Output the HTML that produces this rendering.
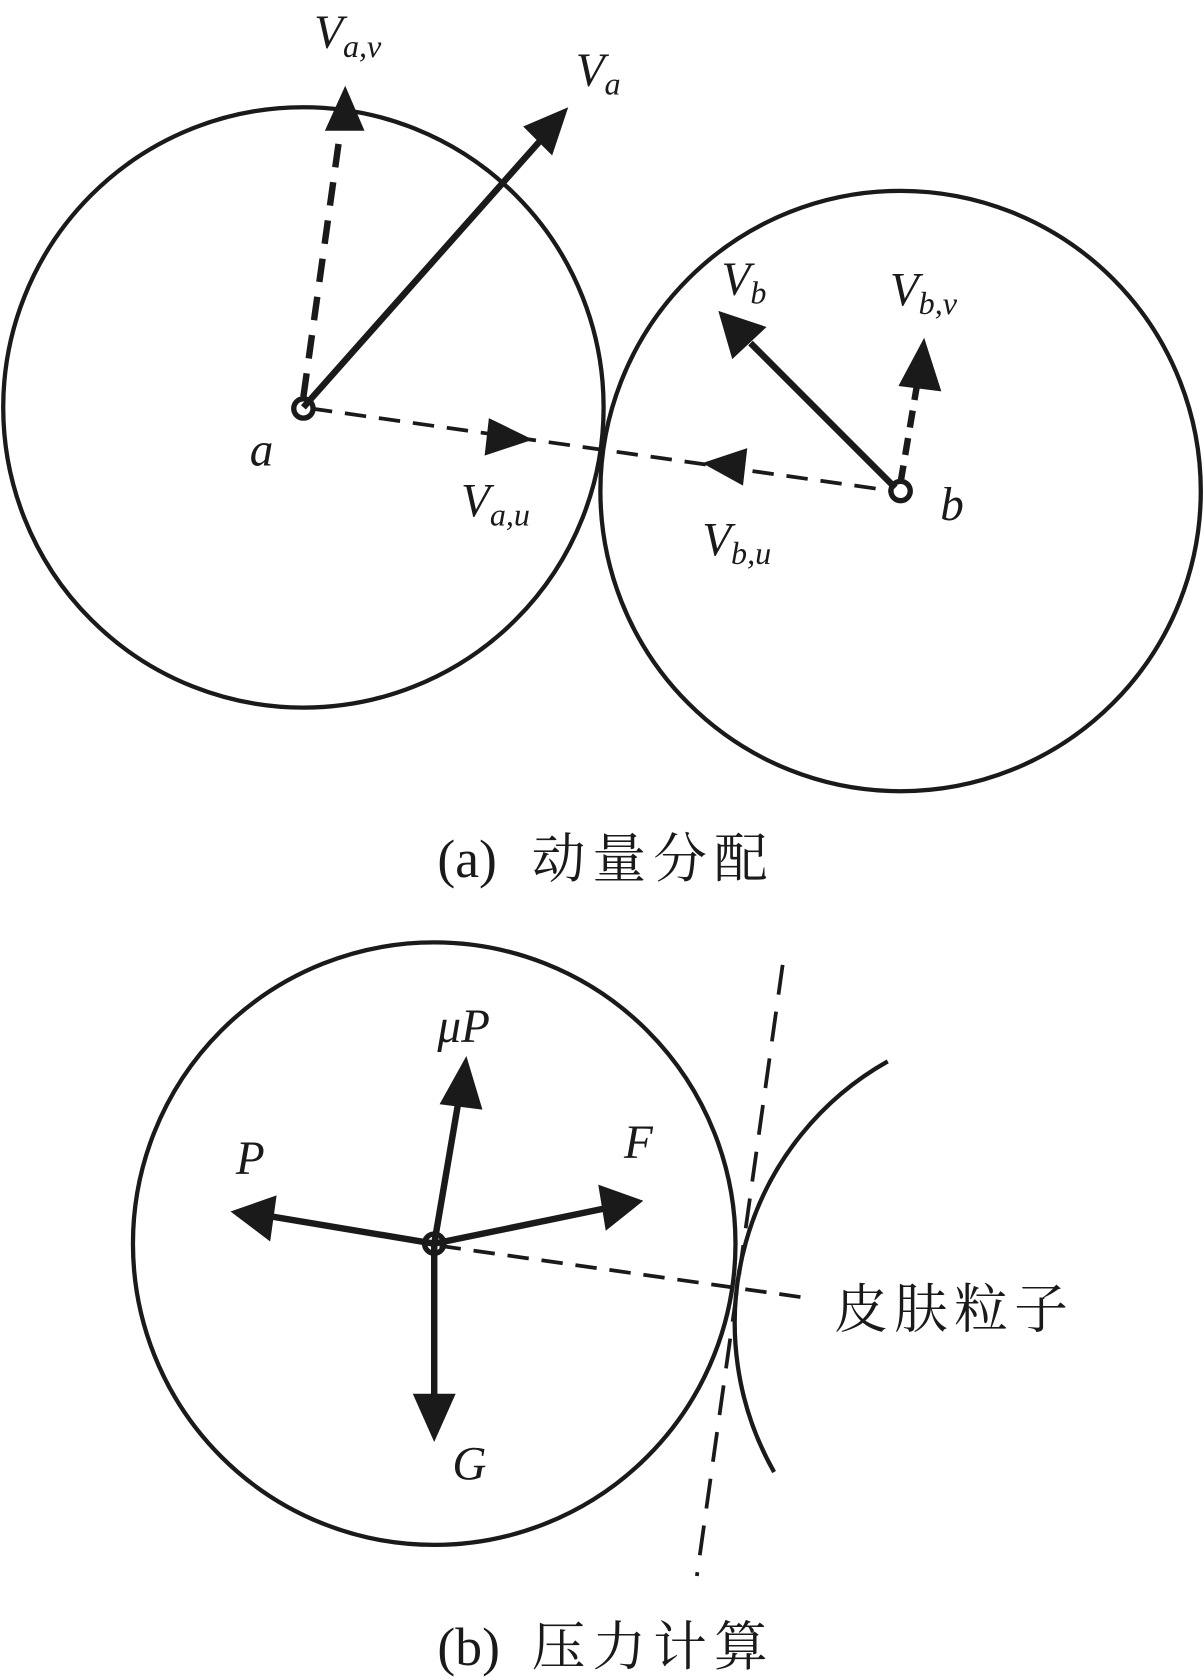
<!DOCTYPE html>
<html><head><meta charset="utf-8"><style>
html,body{margin:0;padding:0;background:#fff;}
svg{display:block;}
text{fill:#1a1a1a;}
.it{font-family:"Liberation Serif",serif;font-style:italic;font-size:44px;}
.sub{font-size:30px;}
.cap{font-family:"Liberation Serif","Noto Serif CJK SC",serif;font-size:50px;}
.cjk{font-family:"Noto Serif CJK SC",serif;}
</style></head><body>
<svg width="1204" height="1680" viewBox="0 0 1123 1567" preserveAspectRatio="none" xmlns="http://www.w3.org/2000/svg">
<g fill="none" stroke="#1a1a1a">
<circle cx="283" cy="380" r="280" stroke-width="4"/>
<circle cx="840" cy="458" r="280" stroke-width="4"/>
<line x1="283" y1="370" x2="318" y2="118" stroke-width="6" stroke-dasharray="22,14"/>
<line x1="283" y1="380" x2="505" y2="130" stroke-width="6"/>
<line x1="290" y1="381" x2="833" y2="458" stroke-width="3.5" stroke-dasharray="20,12"/>
<line x1="835" y1="455" x2="700" y2="320" stroke-width="6"/>
<line x1="840" y1="450" x2="856" y2="355" stroke-width="6" stroke-dasharray="16,10"/>
<circle cx="283" cy="381" r="9" stroke-width="5"/>
<circle cx="840" cy="458" r="9" stroke-width="5"/>
<circle cx="405" cy="1160" r="281" stroke-width="4"/>
<line x1="405" y1="1160" x2="428" y2="1025" stroke-width="6"/>
<line x1="405" y1="1160" x2="255" y2="1135" stroke-width="6"/>
<line x1="405" y1="1160" x2="565" y2="1127" stroke-width="6"/>
<line x1="405" y1="1160" x2="405" y2="1305" stroke-width="6"/>
<line x1="410" y1="1162" x2="748" y2="1210" stroke-width="3.5" stroke-dasharray="20,12"/>
<line x1="730" y1="900" x2="650" y2="1470" stroke-width="3.5" stroke-dasharray="28,16"/>
<path d="M828 990 A281 281 0 0 0 722 1373" stroke-width="4"/>
<circle cx="405" cy="1160" r="9" stroke-width="5"/>
</g>
<g fill="#1a1a1a">
<polygon points="322,80 303,122 340,122"/>
<polygon points="530,100 488,118 515,145"/>
<polygon points="497,410 456,390 452,425"/>
<polygon points="655,432 697,418 693,453"/>
<polygon points="670,290 683,335 715,305"/>
<polygon points="862,315 838,360 878,365"/>
<polygon points="435,985 410,1030 450,1035"/>
<polygon points="215,1130 258,1115 252,1158"/>
<polygon points="600,1120 558,1105 565,1148"/>
<polygon points="405,1345 385,1300 425,1300"/>
</g>
<text class="it" x="293" y="45">V<tspan class="sub" dy="8">a,v</tspan></text>
<text class="it" x="537" y="80">V<tspan class="sub" dy="8">a</tspan></text>
<text class="it" x="233" y="434">a</text>
<text class="it" x="430" y="482">V<tspan class="sub" dy="8">a,u</tspan></text>
<text class="it" x="673" y="275">V<tspan class="sub" dy="8">b</tspan></text>
<text class="it" x="830" y="285">V<tspan class="sub" dy="8">b,v</tspan></text>
<text class="it" x="877" y="485">b</text>
<text class="it" x="655" y="518">V<tspan class="sub" dy="8">b,u</tspan></text>
<text class="cap" x="408" y="818">(a)</text>
<text class="cap cjk" x="496" y="818" textLength="220">动量分配</text>
<text class="it" x="408" y="972">μP</text>
<text class="it" x="220" y="1095">P</text>
<text class="it" x="582" y="1080">F</text>
<text class="it" x="422" y="1380">G</text>
<text class="cap cjk" x="778" y="1238" textLength="218">皮肤粒子</text>
<text class="cap" x="408" y="1553">(b)</text>
<text class="cap cjk" x="496" y="1553" textLength="220">压力计算</text>
</svg>
</body></html>
